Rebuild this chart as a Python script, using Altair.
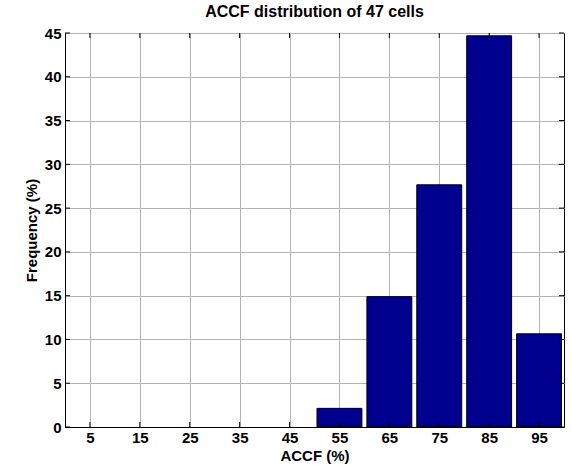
import altair as alt
import pandas as pd

centers = [5, 15, 25, 35, 45, 55, 65, 75, 85, 95]
freq = [0, 0, 0, 0, 0, 2.13, 14.89, 27.66, 44.68, 10.64]
yticks = [0, 5, 10, 15, 20, 25, 30, 35, 40, 45]

W, H = 499, 394
FONT = "Liberation Sans"

df = pd.DataFrame({"c": centers, "f": freq})
df["x0"] = df["c"] - 4.5
df["x1"] = df["c"] + 4.5
df = df[df["f"] > 0]

xt = pd.DataFrame({"t": centers})
yt = pd.DataFrame({"t": yticks})

xs = alt.Scale(domain=[0, 100], nice=False, zero=False)
ys = alt.Scale(domain=[0, 45], nice=False)

xax = alt.Axis(values=centers, title="ACCF (%)", grid=True, ticks=False, labelPadding=3, titlePadding=3)
yax = alt.Axis(values=yticks, title="Frequency (%)", grid=True, ticks=False, labelPadding=4, titlePadding=5)

bars = alt.Chart(df).mark_rect(color="#00008F", stroke="black", strokeWidth=1).encode(
    x=alt.X("x0:Q", scale=xs, axis=xax),
    x2="x1:Q",
    y=alt.Y("f:Q", scale=ys, axis=yax),
    y2=alt.datum(0),
)

tb = alt.Chart(xt).mark_rule(color="black").encode(
    x=alt.X("t:Q", scale=xs, axis=xax), y=alt.value(H), y2=alt.value(H - 5))
tt = alt.Chart(xt).mark_rule(color="black").encode(
    x=alt.X("t:Q", scale=xs, axis=xax), y=alt.value(0), y2=alt.value(5))
tl = alt.Chart(yt).mark_rule(color="black").encode(
    y=alt.Y("t:Q", scale=ys, axis=yax), x=alt.value(0), x2=alt.value(5))
tr = alt.Chart(yt).mark_rule(color="black").encode(
    y=alt.Y("t:Q", scale=ys, axis=yax), x=alt.value(W), x2=alt.value(W - 5))

chart = alt.layer(bars, tb, tt, tl, tr).properties(
    width=W, height=H,
    title=alt.Title("ACCF distribution of 47 cells", font=FONT, fontSize=16, fontWeight="bold",
                    color="black", offset=6),
    autosize=alt.AutoSizeParams(type="none"),
    padding={"left": 65, "top": 33, "right": 7, "bottom": 38},
    background="white",
).configure_view(stroke="black", strokeWidth=1).configure_axis(
    labelFont=FONT, labelFontSize=15, labelFontWeight="bold", labelColor="black",
    titleFont=FONT, titleFontSize=15, titleFontWeight="bold", titleColor="black",
    domainColor="black", domainWidth=1, gridColor="#b4b4b4", gridWidth=1,
)

chart.save("out.html", embed_options={"renderer": "svg", "actions": False})
